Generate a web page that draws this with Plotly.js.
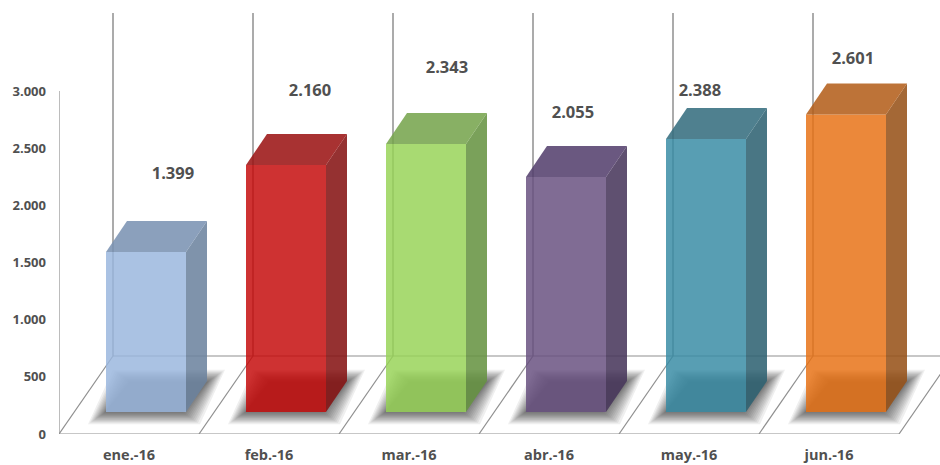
<!DOCTYPE html>
<html>
<head>
<meta charset="utf-8">
<script src="https://cdn.plot.ly/plotly-3.0.1.min.js"></script>
<style>html,body{margin:0;padding:0;background:#fff}#chart{width:940px;height:465px}</style>
</head>
<body>
<div id="chart"></div>
<script>
// Monthly totals, first half of 2016
const categories = ['ene.-16', 'feb.-16', 'mar.-16', 'abr.-16', 'may.-16', 'jun.-16'];
const values = [1399, 2160, 2343, 2055, 2388, 2601];
const yTicks = [0, 500, 1000, 1500, 2000, 2500, 3000];

// Face colours as they read on a white ground
const frontColors = ['#AAC2E3', '#CE3232', '#A8DA73', '#806C94', '#589EB3', '#EB883A'];
const sideColors  = ['#7F93AB', '#953131', '#7AA15A', '#5F5070', '#497684', '#A46836'];
const topColors   = ['#8BA0BC', '#A83232', '#88B064', '#6A5880', '#4F808F', '#BD7338'];

// Hand-placed value labels, relative to each column
const labelShiftX = [0.314, 0.293, 0.271, 0.171, 0.078, 0.171];
const labelShiftY = [408, 373, 390, 285, 142, 204];

// Plot scale: one category is 140 px wide, 3000 units are 343 px tall
const pxX = 1 / 140;
const pxY = 3000 / 343;
const MAX_Y = 434 * pxY;
const MAX_X = -0.5 + 881 * pxX;

// Oblique projection of the chart box and of each column
const floorDX = 54 * pxX, floorDY = 78 * pxY;
const barDX = 21 * pxX, barDY = 31 * pxY;
const barLeft = -23 * pxX, barWidth = 80 * pxX;
const barBase = 22 * pxY;

const FRONT_ALPHA = 0.83, FACE_ALPHA = 0.87;
const AXIS_GREY = '#8f8f8f';
const TEXT_GREY = '#505050';

function onWhite(hex, a) {
  const ch = [1, 3, 5].map(k => parseInt(hex.substr(k, 2), 16));
  const c = ch.map(v => Math.max(0, Math.round(255 - (255 - v) / a)));
  return `rgba(${c[0]},${c[1]},${c[2]},${a})`;
}
function groupThousands(v) { return String(v).replace(/\B(?=(\d{3})+$)/g, '.'); }
function poly(pts) { return 'M' + pts.map(p => p[0] + ',' + p[1]).join('L') + 'Z'; }
function line(x0, y0, x1, y1, width) {
  return {type: 'line', layer: 'below', xref: 'x', yref: 'y', x0, y0, x1, y1,
          line: {color: AXIS_GREY, width: width || 1.2}};
}

const shapes = [];

// Floor outline, divisions between categories and the back wall
shapes.push(line(-0.5, 0, categories.length - 0.5, 0));
shapes.push(line(-0.5 + floorDX, floorDY, MAX_X + 1, floorDY));
for (let i = 0; i <= categories.length; i++) {
  const x = i - 0.5;
  shapes.push(line(x, 0, x + floorDX, floorDY));
  if (i < categories.length) shapes.push(line(x + floorDX, floorDY, x + floorDX, floorDY + 3000, 1.5));
}
shapes.push(line(-0.5, 0, -0.5, 3000));

// Soft contact shadow: stacked, slowly shrinking footprints
const shadowSteps = [16, 14, 12.5, 11, 9.5, 8, 6.5, 5, 3.5, 2, 0.5, -1];
categories.forEach((_, i) => {
  const x0 = i + barLeft, x1 = x0 + barWidth;
  shadowSteps.forEach(m => {
    const gx = m * pxX, gy = m * 0.7 * pxY;
    shapes.push({
      type: 'path', layer: 'below', xref: 'x', yref: 'y', line: {width: 0},
      fillcolor: 'rgba(30,30,30,0.07)',
      path: poly([
        [x0 - gx - 2 * pxX, barBase - gy - 1 * pxY],
        [x1 + gx - 2 * pxX, barBase - gy - 1 * pxY],
        [x1 + barDX + gx + 2 * pxX, barBase + barDY + gy],
        [x0 + barDX - gx + 2 * pxX, barBase + barDY + gy]
      ])
    });
  });
});

// Front faces are ordinary bars standing on the raised floor level
const traces = [{
  type: 'bar',
  x: categories.map((_, i) => i + barLeft + barWidth / 2),
  y: values,
  base: barBase,
  width: barWidth,
  marker: {color: frontColors.map(c => onWhite(c, FRONT_ALPHA)), line: {width: 0}},
  hoverinfo: 'skip',
  showlegend: false
}];

// Side and top faces follow the column height
function face(xs, ys, color) {
  return {type: 'scatter', mode: 'lines', x: xs, y: ys, fill: 'toself', fillcolor: color,
          line: {width: 0}, hoverinfo: 'skip', showlegend: false};
}
values.forEach((v, i) => {
  const x0 = i + barLeft, x1 = x0 + barWidth, y1 = barBase + v;
  traces.push(face([x1, x1 + barDX, x1 + barDX, x1, x1],
                   [barBase, barBase + barDY, y1 + barDY, y1, barBase],
                   onWhite(sideColors[i], FACE_ALPHA)));
  traces.push(face([x0, x1, x1 + barDX, x0 + barDX, x0],
                   [y1, y1, y1 + barDY, y1 + barDY, y1],
                   onWhite(topColors[i], FACE_ALPHA)));
});

traces.push({
  type: 'scatter', mode: 'text',
  x: values.map((_, i) => i + labelShiftX[i]),
  y: values.map((v, i) => barBase + v + barDY + labelShiftY[i]),
  text: values.map(groupThousands),
  textposition: 'middle center',
  textfont: {family: 'Open Sans', size: 16.5, weight: 700, color: TEXT_GREY},
  cliponaxis: false, hoverinfo: 'skip', showlegend: false
});

const layout = {
  width: 940, height: 465,
  margin: {l: 59, r: 0, t: 0, b: 31, pad: 0},
  paper_bgcolor: '#ffffff', plot_bgcolor: '#ffffff',
  showlegend: false, separators: ',.',
  xaxis: {
    range: [-0.5, MAX_X], tickmode: 'array',
    tickvals: categories.map((_, i) => i), ticktext: categories,
    showgrid: false, zeroline: false, showline: false, ticks: '',
    ticklabelstandoff: 10,
    tickfont: {family: 'Open Sans', size: 14.5, weight: 700, color: TEXT_GREY}
  },
  yaxis: {
    range: [0, MAX_Y], tickmode: 'array', tickvals: yTicks, ticktext: yTicks.map(groupThousands),
    showgrid: false, zeroline: false, showline: false, ticks: '',
    ticklabelstandoff: 12,
    tickfont: {family: 'Open Sans', size: 13, weight: 700, color: TEXT_GREY}
  },
  shapes: shapes
};

Plotly.newPlot('chart', traces, layout, {displayModeBar: false, staticPlot: true});
</script>
</body>
</html>
